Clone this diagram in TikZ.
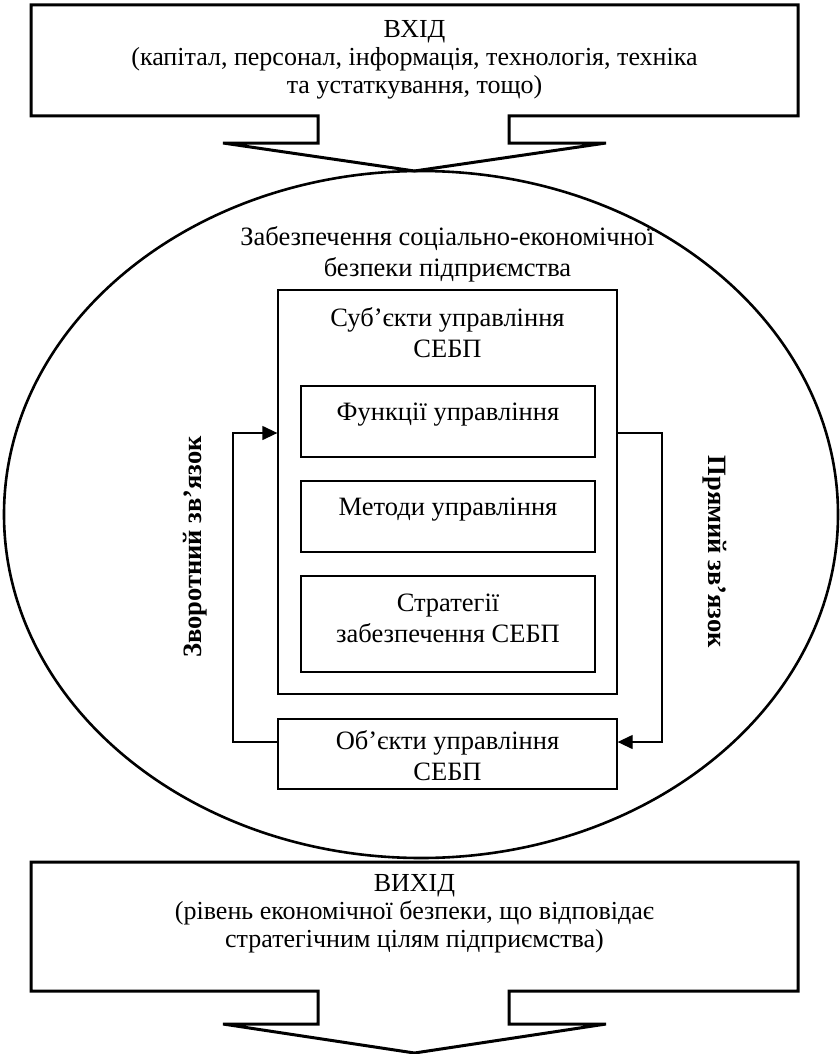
\documentclass[tikz,border=0pt]{standalone}
\usepackage{fontspec}
\setmainfont{Liberation Serif}
\usetikzlibrary{arrows.meta}

\tikzset{
  txt/.style={font=\fontsize{26.5}{31}\selectfont, align=center, inner sep=0pt},
  big/.style={font=\fontsize{26}{28}\selectfont, align=center, inner sep=0pt},
  lbl/.style={font=\fontsize{26.5}{31}\selectfont\bfseries, inner sep=0pt},
  blk/.style={draw, line width=1.3pt, inner sep=0pt},
  fat/.style={line width=3pt, line join=miter},
  conn/.style={line width=1.3pt, -{Triangle[length=15pt,width=14pt]}}
}

\begin{document}
\begin{tikzpicture}[x=1pt,y=-1pt]
\useasboundingbox (0,0) rectangle (839,1054);
% ellipse
\draw [line width=2.6pt] (421,514.5) ellipse [x radius=417, y radius=343.5];
% input box with arrow
\draw [fat] (318,116)--(31,116)--(31,5)--(798,5)--(798,116)--(509,116)--(509,143)--(606,143)--(414.5,171)--(223,143)--(318,143)--cycle;
\node [big] (inp) at (414.5,60) {ВХІД\\(капітал, персонал, інформація, технологія, техніка\\та устаткування, тощо)};
% output box with arrow
\draw [fat] (318,991)--(31,991)--(31,862)--(798,862)--(798,991)--(509,991)--(509,1024)--(606,1024)--(414.5,1053)--(223,1024)--(318,1024)--cycle;
\node [big] (outp) at (414.5,914) {ВИХІД\\(рівень економічної безпеки, що відповідає\\стратегічним цілям підприємства)};
% inside the ellipse
\node [txt] (title) at (447.5,254) {Забезпечення соціально-економічної\\безпеки підприємства};
\node [blk, minimum width=339pt, minimum height=404pt] (subj) at (447.5,492) {};
\node [txt] at (447.5,332.5) {Суб’єкти управління\\СЕБП};
\node [blk, minimum width=294pt, minimum height=71pt] (func) at (448,421.5) {};
\node [txt] at (448,415) {Функції управління};
\node [blk, minimum width=294pt, minimum height=71pt] (meth) at (448,516.5) {};
\node [txt] at (448,510) {Методи управління};
\node [blk, minimum width=294pt, minimum height=96pt] (strat) at (448,624) {};
\node [txt] at (448,618) {Стратегії\\забезпечення СЕБП};
\node [blk, minimum width=339pt, minimum height=70pt] (obj) at (447.5,754) {};
\node [txt] at (447.5,756) {Об’єкти управління\\СЕБП};
% feedback and direct links
\draw [conn] (obj.west |- 0,742) -- (233,742) |- (subj.west |- 0,433);
\draw [conn] (subj.east |- 0,433) -- (662,433) |- (obj.east |- 0,742);
\node [lbl, rotate=90] (back) at (195,547) {Зворотний зв’язок};
\node [lbl, rotate=-90] (fwd) at (715,552) {Прямий зв’язок};
\end{tikzpicture}
\end{document}
